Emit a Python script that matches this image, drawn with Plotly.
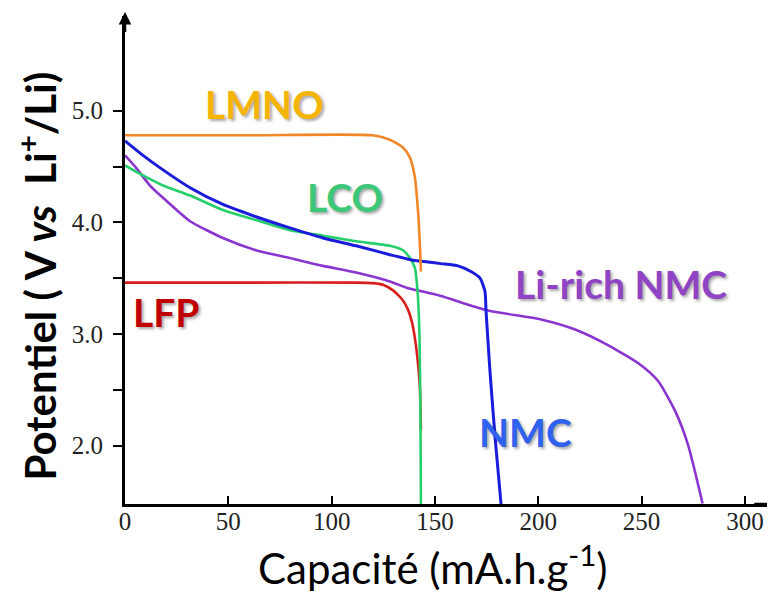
import plotly.graph_objects as go

# ---- data (capacity in mA.h/g, potential in V vs Li+/Li) ----
lmno_x = [0, 60, 120.0, 128.2, 134.5, 137.9, 140.3, 141.8, 142.7, 143.2]
lmno_y = [4.78, 4.78, 4.78, 4.74, 4.67, 4.58, 4.40, 4.10, 3.80, 3.56]

nmc_x = [0, 8.7, 18.4, 31.5, 47.4, 63.4, 79.8, 95.8, 111.8, 128.2, 139.4, 146.6, 152.9, 161.1, 167.4, 171.8, 174.2, 174.7, 176.6, 179.1, 182.0]
nmc_y = [4.73, 4.60, 4.47, 4.31, 4.16, 4.05, 3.95, 3.86, 3.79, 3.71, 3.66, 3.645, 3.63, 3.61, 3.56, 3.50, 3.38, 3.21, 2.67, 2.07, 1.47]

lco_x = [0, 8.7, 18.4, 31.5, 47.4, 63.4, 79.8, 95.8, 111.8, 128.2, 134.5, 137.9, 140.3, 141.5, 142.5, 143.0, 143.2]
lco_y = [4.51, 4.42, 4.33, 4.24, 4.11, 4.02, 3.93, 3.88, 3.83, 3.79, 3.75, 3.68, 3.59, 3.40, 3.00, 2.20, 1.47]

lirich_x = [0, 5.3, 12.1, 18.4, 31.5, 47.4, 63.4, 79.8, 95.8, 111.8, 128.2, 136.9, 144.2, 152.9, 175.7, 201.3, 217.8, 233.7, 249.7, 257.9, 266.2, 272.4, 279.5]
lirich_y = [4.60, 4.49, 4.33, 4.22, 4.01, 3.86, 3.75, 3.68, 3.61, 3.55, 3.47, 3.41, 3.38, 3.34, 3.21, 3.13, 3.04, 2.90, 2.72, 2.58, 2.31, 2.01, 1.48]

lfp_x = [0, 60, 111.8, 120.0, 124.8, 129.7, 132.1, 134.5, 136.9, 138.8, 140.3, 141.7, 142.7, 143.2]
lfp_y = [3.46, 3.46, 3.46, 3.455, 3.44, 3.39, 3.35, 3.30, 3.22, 3.11, 2.96, 2.75, 2.52, 2.14]

x_ticks = [0, 50, 100, 150, 200, 250, 300]
y_ticks = [2.0, 2.5, 3.0, 3.5, 4.0, 4.5, 5.0]
y_ticktext = ["2.0", "", "3.0", "", "4.0", "", "5.0"]

labels = ["LMNO", "LCO", "Li-rich NMC", "LFP", "NMC"]
label_x = [67.7, 106.4, 240.0, 19.6, 194.0]
label_y = [5.06, 4.23, 3.45, 3.195, 2.12]
label_colors = ["#F5B400", "#3CC878", "#8E44C4", "#C00000", "#2F62F0"]

series = [
    ("LFP", lfp_x, lfp_y, "#D91E1E", 2.6),
    ("Li-rich NMC", lirich_x, lirich_y, "#8A35CF", 2.6),
    ("LCO", lco_x, lco_y, "#25D06A", 2.6),
    ("NMC", nmc_x, nmc_y, "#1B1BDB", 3.0),
    ("LMNO", lmno_x, lmno_y, "#F0882A", 2.6),
]

fig = go.Figure()
for name, xs, ys, col, w in series:
    fig.add_trace(go.Scatter(x=xs, y=ys, mode="lines", name=name,
                             line=dict(color=col, width=w, shape="spline", smoothing=0.6),
                             showlegend=False))

for t, x, y, c in zip(labels, label_x, label_y, label_colors):
    fig.add_annotation(x=x, y=y, xref="x", yref="y", text="<b>%s</b>" % t, showarrow=False,
                       font=dict(family="Lato", size=39, color=c,
                                 shadow="2px 2px 3px rgba(0,0,0,0.35)"),
                       xanchor="center", yanchor="middle")

# axis arrows
fig.add_annotation(x=0, y=1.008, xref="paper", yref="paper", text=" ", showarrow=True,
                   ax=0, ay=30, arrowhead=2, arrowsize=1, arrowwidth=2.5, arrowcolor="black")
fig.add_annotation(x=1.005, y=0, xref="paper", yref="paper", text=" ", showarrow=True,
                   ax=-30, ay=0, arrowhead=2, arrowsize=1, arrowwidth=2.5, arrowcolor="black")

# axis titles
fig.add_annotation(x=-0.134, y=0.467, xref="paper", yref="paper",
                   text="<b>Potentiel ( V <i>vs</i>&nbsp; Li<sup>+</sup>/Li)</b>",
                   textangle=-90, showarrow=False, xanchor="center", yanchor="middle",
                   font=dict(family="Lato", size=42, color="black"))
fig.add_annotation(x=0.472, y=-0.125, xref="paper", yref="paper",
                   text="Capacité (mA.h.g<sup>-1</sup>)",
                   showarrow=False, xanchor="center", yanchor="middle",
                   font=dict(family="Lato", size=42, color="black"))

fig.update_layout(
    width=775, height=594,
    margin=dict(l=117, r=5, t=8, b=98),
    paper_bgcolor="white", plot_bgcolor="white",
    xaxis=dict(range=[0, 316], tickvals=x_ticks, ticks="inside", ticklen=8, tickwidth=2,
               tickcolor="black", showline=True, linecolor="black", linewidth=3,
               showgrid=False, zeroline=False, ticklabelstandoff=-7,
               tickfont=dict(family="Liberation Serif", size=25, color="#222")),
    yaxis=dict(range=[1.476, 5.849], tickvals=y_ticks, ticktext=y_ticktext, ticks="outside",
               ticklen=9, tickwidth=2, tickcolor="black", showline=True, linecolor="black",
               linewidth=3, showgrid=False, zeroline=False, ticklabelstandoff=5,
               tickfont=dict(family="Liberation Serif", size=25, color="#222")),
)

fig.write_html("out.html")
